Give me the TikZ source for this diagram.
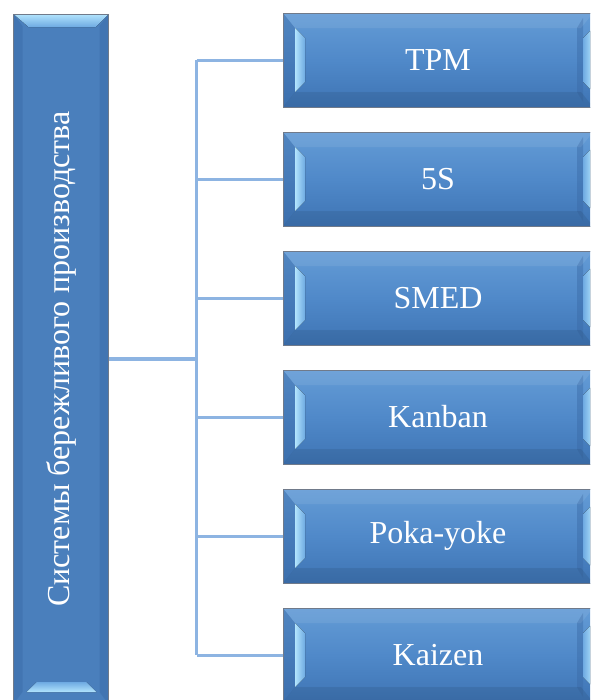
\documentclass[tikz,border=0pt]{standalone}
\usepackage{fontspec}
\setmainfont{Liberation Serif}
\usetikzlibrary{positioning, calc}

\definecolor{boxblue}{RGB}{80,137,201}
\definecolor{boxtop}{RGB}{100,156,214}
\definecolor{boxbot}{RGB}{62,116,180}
\definecolor{leanblue}{RGB}{74,127,188}
\definecolor{bevlight}{RGB}{178,228,253}
\definecolor{bevmid}{RGB}{110,170,226}
\definecolor{facetdark}{RGB}{58,106,166}
\definecolor{rimgray}{RGB}{112,122,138}
\definecolor{linkblue}{RGB}{141,180,226}
\definecolor{linkedge}{RGB}{80,94,116}

\begin{document}
\begin{tikzpicture}[
  x=0.75pt, y=-0.75pt,
  node distance=18.75pt,
  every node/.style={font=\fontsize{24}{28}\selectfont, text=white},
  leanbox/.style={rectangle, draw=rimgray, line width=0.75pt, outer sep=0pt, fill=leanblue, minimum width=71.25pt, minimum height=517.5pt},
  toolbox/.style={rectangle, draw=rimgray, line width=0.75pt, outer sep=0pt, top color=boxtop, bottom color=boxbot, middle color=boxblue, minimum width=232.5pt, minimum height=70.5pt},
  link/.style={linkblue, line width=2.25pt},
  mainlink/.style={draw=linkedge, line width=0.6pt, double=linkblue, double distance=2.4pt},
  facet/.style={fill=facetdark, fill opacity=0.45}
]
\useasboundingbox (0,0) rectangle (590,700);
\clip (0,0) rectangle (590,700);

% Nodes
\node[leanbox] (lean) at (61,359) {\rotatebox{90}{Системы бережливого производства}};

\node[toolbox] (tpm) at (438,60) {TPM};
\node[toolbox, below=of tpm]      (fives)    {5S};
\node[toolbox, below=of fives]    (smed)     {SMED};
\node[toolbox, below=of smed]     (kanban)   {Kanban};
\node[toolbox, below=of kanban]   (pokayoke) {Poka-yoke};
\node[toolbox, below=of pokayoke] (kaizen)   {Kaizen};

% Bevels
\fill[facet] (lean.north west) -- ($(lean.north west)+(9,12)$) -- ($(lean.south west)+(9,-12)$) -- (lean.south west) -- cycle;
\fill[facet] (lean.north east) -- ($(lean.north east)+(-9,12)$) -- ($(lean.south east)+(-9,-12)$) -- (lean.south east) -- cycle;
\fill[top color=bevlight, bottom color=bevmid] (lean.north west) -- (lean.north east) -- ($(lean.north east)+(-13,13)$) -- ($(lean.north west)+(15,13)$) -- cycle;
\fill[top color=bevmid, bottom color=bevlight] ($(lean.south west)+(23,-22)$) -- ($(lean.south east)+(-22,-22)$) -- ($(lean.south east)+(-12,-12)$) -- ($(lean.south west)+(13,-12)$) -- cycle;
\draw[rimgray, line width=0.75pt] (lean.north west) rectangle (lean.south east);

\foreach \b in {tpm,fives,smed,kanban,pokayoke,kaizen}{
  \fill[facet] (\b.north west) -- ($(\b.north west)+(12,15)$) -- ($(\b.south west)+(12,-15)$) -- (\b.south west) -- cycle;
  \fill[facet] ($(\b.north east)+(-10,5)$) -- ($(\b.north east)+(-16,15)$) -- ($(\b.south east)+(-16,-15)$) -- ($(\b.south east)+(-10,-5)$) -- cycle;
  \fill[white, opacity=0.08] (\b.north west) -- (\b.north east) -- ($(\b.north east)+(-12,15)$) -- ($(\b.north west)+(12,15)$) -- cycle;
  \fill[black, opacity=0.08] (\b.south west) -- (\b.south east) -- ($(\b.south east)+(-12,-15)$) -- ($(\b.south west)+(12,-15)$) -- cycle;
  \fill[left color=bevlight, right color=bevmid] ($(\b.north west)+(12,15)$) -- ($(\b.north west)+(22,25)$) -- ($(\b.south west)+(22,-25)$) -- ($(\b.south west)+(12,-15)$) -- cycle;
  \fill[left color=bevmid, right color=bevlight] ($(\b.north east)+(-10,25)$) -- ($(\b.north east)+(0,15)$) -- ($(\b.south east)+(0,-15)$) -- ($(\b.south east)+(-10,-25)$) -- cycle;
  \draw[rimgray, line width=0.75pt] (\b.north west) rectangle (\b.south east);
}

% Edges
\coordinate (hub) at (196.5,359);
\draw[link] (hub |- tpm.west) -- (hub |- kaizen.west);
\foreach \b in {tpm,fives,smed,kanban,pokayoke,kaizen}
  \draw[link] (hub |- \b.west) -- (\b.west);
\draw[mainlink] (lean.east) -- (hub);

\end{tikzpicture}
\end{document}
